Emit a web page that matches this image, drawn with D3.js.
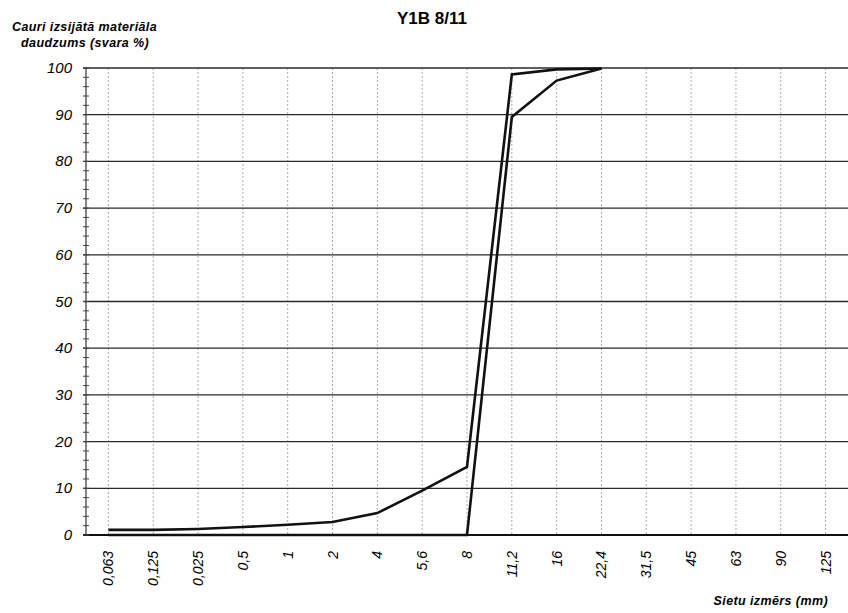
<!DOCTYPE html>
<html>
<head>
<meta charset="utf-8">
<script src="https://cdn.jsdelivr.net/npm/d3@7"></script>
<style>
  body { margin: 0; background: #fff; }
  text { font-family: "Liberation Sans", Arial, sans-serif; }
</style>
</head>
<body>
<div id="chart"></div>
<script>
// dati
const sizes = ["0,063", "0,125", "0,025", "0,5", "1", "2", "4", "5,6", "8", "11,2", "16", "22,4", "31,5", "45", "63", "90", "125"]
const upperCurve = [1.1, 1.1, 1.3, 1.7, 2.2, 2.8, 4.7, 9.5, 14.6, 98.6, 99.7, 99.9]
const lowerCurve = [0, 0, 0, 0, 0, 0, 0, 0, 0, 89.5, 97.3, 99.9]
const yTicks = [0, 10, 20, 30, 40, 50, 60, 70, 80, 90, 100]

const width = 848
const height = 613
const margin = { top: 68, bottom: 78, left: 86, right: 0 }

const svg = d3.select("div#chart").append("svg").attr("width", width).attr("height", height)

const x = d3.scaleBand().domain(sizes).range([margin.left, width - margin.right])
const y = d3.scaleLinear().domain([0, 100]).range([height - margin.bottom, margin.top])
const cx = d => x(d) + x.bandwidth() / 2

// virsraksts
svg.append("text")
    .attr("x", 432).attr("y", 24)
    .attr("text-anchor", "middle")
    .style("font-size", "17px").style("font-weight", "bold")
    .text("Y1B 8/11")

const yTitle = svg.append("text")
    .style("font-size", "12.5px").style("font-weight", "bold").style("font-style", "italic")
    .style("letter-spacing", "0.4px")
yTitle.append("tspan").attr("x", 12).attr("y", 31).text("Cauri izsijātā materiāla")
yTitle.append("tspan").attr("x", 21).attr("y", 47).text("daudzums (svara %)")

svg.append("text")
    .attr("x", 828).attr("y", 605)
    .attr("text-anchor", "end")
    .style("font-size", "12.5px").style("font-weight", "bold").style("font-style", "italic")
    .style("letter-spacing", "0.4px")
    .text("Sietu izmērs (mm)")

// vertikālās režģa līnijas
svg.append("g").selectAll("line").data(sizes).join("line")
    .attr("x1", cx).attr("x2", cx)
    .attr("y1", y(100)).attr("y2", y(0))
    .attr("stroke", "#aaa").attr("stroke-width", 1).attr("stroke-dasharray", "2,2")

// horizontālās režģa līnijas
svg.append("g").selectAll("line").data(yTicks).join("line")
    .attr("x1", margin.left - 3).attr("x2", width)
    .attr("y1", d => y(d)).attr("y2", d => y(d))
    .attr("stroke", d => d === 0 ? "#111" : "#2a2a2a")
    .attr("stroke-width", d => d === 0 ? 2 : 1.3)

// y ass
const yAxisG = svg.append("g").attr("transform", `translate(${margin.left},0)`)
yAxisG.append("line").attr("y1", y(100)).attr("y2", y(0)).attr("stroke", "#333").attr("stroke-width", 1.2)
yAxisG.selectAll("line.minor").data(d3.range(0, 101, 2)).join("line")
    .attr("class", "minor")
    .attr("x1", -3).attr("x2", 3)
    .attr("y1", d => y(d)).attr("y2", d => y(d))
    .attr("stroke", "#444")
yAxisG.selectAll("text").data(yTicks).join("text")
    .attr("x", -14).attr("y", d => y(d) + 5)
    .attr("text-anchor", "end")
    .style("font-size", "15px").style("font-style", "italic")
    .text(d => d)

// x ass uzraksti
svg.append("g").selectAll("text").data(sizes).join("text")
    .attr("transform", d => `translate(${cx(d) + 5},${y(0) + 16}) rotate(-90)`)
    .attr("text-anchor", "end")
    .style("font-size", "14px").style("font-style", "italic")
    .text(d => d)

// līknes
const line = d3.line().x((d, i) => cx(sizes[i])).y(d => y(d))
svg.append("path").datum(lowerCurve).attr("d", line)
    .attr("fill", "none").attr("stroke", "#111").attr("stroke-width", 2.6)
svg.append("path").datum(upperCurve).attr("d", line)
    .attr("fill", "none").attr("stroke", "#111").attr("stroke-width", 2.6)
</script>
</body>
</html>
